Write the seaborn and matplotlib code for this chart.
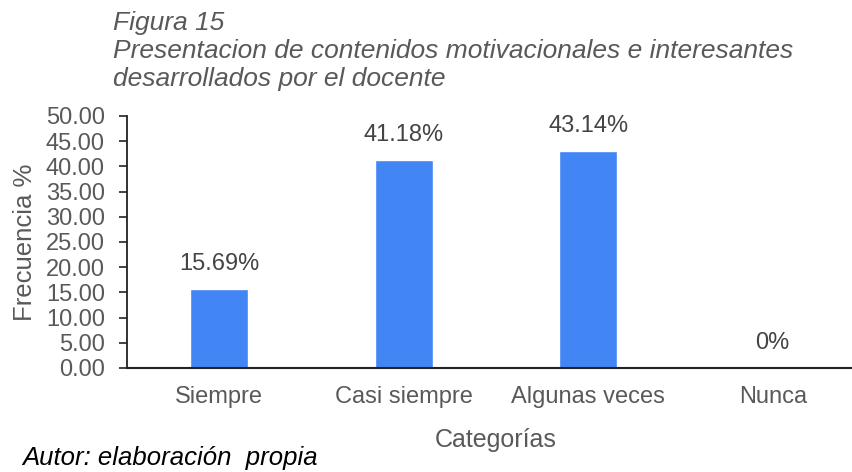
import pandas as pd
import seaborn as sns
import matplotlib.pyplot as plt

# Data
categorias = ["Siempre", "Casi siempre", "Algunas veces", "Nunca"]
frecuencia = [15.69, 41.18, 43.14, 0.0]
etiquetas = ["15.69%", "41.18%", "43.14%", "0%"]

df = pd.DataFrame({"Categorías": categorias, "Frecuencia": frecuencia})

sns.set_style("white")
plt.rcParams["font.family"] = ["Liberation Sans", "DejaVu Sans"]

gris = "#595959"
azul = "#4285F4"

fig = plt.figure(figsize=(8.53, 4.72), dpi=100)
ax = fig.add_axes([127 / 853, 1 - 368 / 472, 738 / 853, 252 / 472])

sns.barplot(data=df, x="Categorías", y="Frecuencia", color=azul,
            width=0.315, saturation=1, ax=ax)

ax.set_ylim(0, 50)
ax.set_xlim(-0.5, 3.5)
ax.set_yticks([i * 5 for i in range(11)])
ax.set_yticklabels([f"{i * 5:.2f}" for i in range(11)])
ax.tick_params(axis="y", length=6, width=1.2, color="#222222",
               labelsize=17, labelcolor=gris, pad=10, left=True)
ax.tick_params(axis="x", length=0, labelsize=17, labelcolor=gris, pad=13)

for s in ["top", "right"]:
    ax.spines[s].set_visible(False)
ax.spines["left"].set_color("#222222")
ax.spines["bottom"].set_color("#222222")
ax.spines["left"].set_linewidth(1.3)
ax.spines["bottom"].set_linewidth(1.5)

ax.set_xlabel("Categorías", fontsize=18, color=gris, va="center")
ax.xaxis.set_label_coords(0.499, -(440 - 368) / 252)
ax.set_ylabel("Frecuencia %", fontsize=18.5, color=gris, va="center")
ax.yaxis.set_label_coords((25 - 127) / 738, 0.5)

for i, (v, t) in enumerate(zip(frecuencia, etiquetas)):
    ax.annotate(t, (i, v), xytext=(0, 18), textcoords="offset points",
                ha="center", va="center", fontsize=17, color="#444444")

fig.text(113 / 853, 1 - 11 / 472,
         "Figura 15\nPresentacion de contenidos motivacionales e interesantes\ndesarrollados por el docente",
         ha="left", va="top", fontsize=19, style="italic", color=gris,
         linespacing=1.22)
fig.text(22 / 853, 1 - 458 / 472, "Autor: elaboración  propia",
         ha="left", va="center", fontsize=18.5, style="italic", color="black")

fig.savefig("out.png", dpi=100)
